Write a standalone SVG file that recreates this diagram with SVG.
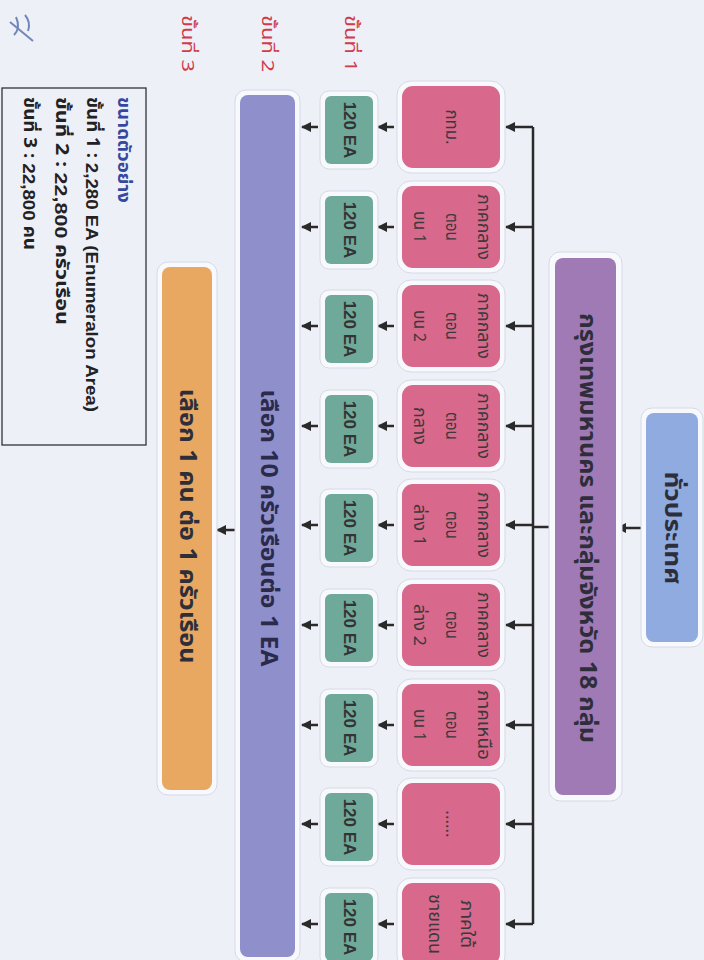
<svg xmlns="http://www.w3.org/2000/svg" width="704" height="960" viewBox="0 0 704 960">
<defs>
<marker id="ah" viewBox="0 0 10 10" refX="9" refY="5" markerWidth="10" markerHeight="10" markerUnits="userSpaceOnUse" orient="auto">
<path d="M0,0 L10,5 L0,10 z" fill="#2a2a2a"/>
</marker>
<style>
.halo{fill:#f8f9fd;stroke:#d6d9e6;stroke-width:1}
.pink{fill:#d8688c}
.green{fill:#6fa99a}
.t{font-family:"Noto Sans Thai","Noto Sans","DejaVu Sans",sans-serif;text-anchor:middle;dominant-baseline:central}
.big{font-size:23px;font-weight:bold;fill:#2e2e3a}
.pt{font-size:17px;fill:#3a3a3a}
.gt{font-family:"Liberation Sans",Arial,sans-serif;font-size:17px;font-weight:bold;fill:#333;text-anchor:middle;dominant-baseline:central}
.lg{font-family:"Noto Sans Thai","Noto Sans","DejaVu Sans",sans-serif;font-size:17px;font-weight:bold;fill:#222;dominant-baseline:central}
.st{font-family:"Noto Sans Thai","Noto Sans","DejaVu Sans",sans-serif;font-size:17px;fill:#d23a48;dominant-baseline:central}
.ln{stroke:#2a2a2a;stroke-width:2.5;fill:none}
.ar{stroke:#2a2a2a;stroke-width:2.5;fill:none;marker-end:url(#ah)}
</style>
</defs>
<rect x="0" y="0" width="704" height="960" fill="#eef0f8"/>

<path d="M10,22 L33,41 M16,17 Q21,28 14,35 M25,15 Q31,22 28,31" stroke="#7088b8" stroke-width="2" fill="none"/>

<g id="stage-labels">
<text class="st" transform="translate(350,15) rotate(90)" textLength="57" lengthAdjust="spacingAndGlyphs">ขั้นที่ 1</text>
<text class="st" transform="translate(267,15) rotate(90)" textLength="57" lengthAdjust="spacingAndGlyphs">ขั้นที่ 2</text>
<text class="st" transform="translate(187,15) rotate(90)" textLength="57" lengthAdjust="spacingAndGlyphs">ขั้นที่ 3</text>
</g>

<g id="legend">
<rect x="2" y="88" width="144" height="357" fill="none" stroke="#333" stroke-width="1.3"/>
<text class="lg" transform="translate(123,97) rotate(90)" style="fill:#3548a0" textLength="106" lengthAdjust="spacingAndGlyphs">ขนาดตัวอย่าง</text>
<text class="lg" transform="translate(92,97) rotate(90)" textLength="315" lengthAdjust="spacingAndGlyphs">ขั้นที่ 1 : <tspan font-family="Liberation Sans, Arial, sans-serif">2,280 EA (Enumeralon Area)</tspan></text>
<text class="lg" transform="translate(61,97) rotate(90)" textLength="228" lengthAdjust="spacingAndGlyphs">ขั้นที่ 2 : <tspan font-family="Liberation Sans, Arial, sans-serif">22,800</tspan> ครัวเรือน</text>
<text class="lg" transform="translate(29,97) rotate(90)" textLength="153" lengthAdjust="spacingAndGlyphs">ขั้นที่ 3 : <tspan font-family="Liberation Sans, Arial, sans-serif">22,800</tspan> คน</text>
</g>

<g id="connectors">
<line class="ar" x1="645" y1="528" x2="617" y2="528"/>
<line class="ln" x1="555" y1="527" x2="533" y2="527"/>
<line class="ln" x1="533" y1="127" x2="533" y2="924"/>
<line class="ar" x1="533" y1="127" x2="506" y2="127"/>
<line class="ar" x1="533" y1="227" x2="506" y2="227"/>
<line class="ar" x1="533" y1="326" x2="506" y2="326"/>
<line class="ar" x1="533" y1="426" x2="506" y2="426"/>
<line class="ar" x1="533" y1="525" x2="506" y2="525"/>
<line class="ar" x1="533" y1="625" x2="506" y2="625"/>
<line class="ar" x1="533" y1="725" x2="506" y2="725"/>
<line class="ar" x1="533" y1="824" x2="506" y2="824"/>
<line class="ar" x1="533" y1="924" x2="506" y2="924"/>
<line class="ar" x1="394" y1="127" x2="378" y2="127"/>
<line class="ar" x1="394" y1="227" x2="378" y2="227"/>
<line class="ar" x1="394" y1="326" x2="378" y2="326"/>
<line class="ar" x1="394" y1="426" x2="378" y2="426"/>
<line class="ar" x1="394" y1="525" x2="378" y2="525"/>
<line class="ar" x1="394" y1="625" x2="378" y2="625"/>
<line class="ar" x1="394" y1="725" x2="378" y2="725"/>
<line class="ar" x1="394" y1="824" x2="378" y2="824"/>
<line class="ar" x1="394" y1="924" x2="378" y2="924"/>
<line class="ar" x1="318" y1="127" x2="302" y2="127"/>
<line class="ar" x1="318" y1="227" x2="302" y2="227"/>
<line class="ar" x1="318" y1="326" x2="302" y2="326"/>
<line class="ar" x1="318" y1="426" x2="302" y2="426"/>
<line class="ar" x1="318" y1="525" x2="302" y2="525"/>
<line class="ar" x1="318" y1="625" x2="302" y2="625"/>
<line class="ar" x1="318" y1="725" x2="302" y2="725"/>
<line class="ar" x1="318" y1="824" x2="302" y2="824"/>
<line class="ar" x1="318" y1="924" x2="302" y2="924"/>
<line class="ar" x1="238" y1="530" x2="217" y2="530"/>
</g>

<g id="n-country">
<rect class="halo" x="641" y="408" width="62" height="239" rx="11"/>
<rect x="646" y="413" width="52" height="229" rx="8" fill="#8fabe0"/>
<text class="t big" transform="translate(672,528) rotate(90)" textLength="113" lengthAdjust="spacingAndGlyphs">ทั่วประเทศ</text>
</g>

<g id="n-groups">
<rect class="halo" x="549" y="252" width="73" height="549" rx="11"/>
<rect x="555" y="258" width="61" height="537" rx="8" fill="#a07ab5"/>
<text class="t big" transform="translate(587,528) rotate(90)" textLength="430" lengthAdjust="spacingAndGlyphs">กรุงเทพมหานคร และกลุ่มจังหวัด 18 กลุ่ม</text>
</g>

<g id="n-p1"><rect class="halo" x="397" y="81" width="108" height="92" rx="14"/><rect class="pink" x="402" y="86" width="98" height="82" rx="11"/>
<text class="t pt" transform="translate(451,127) rotate(90)" textLength="35" lengthAdjust="spacingAndGlyphs">กทม.</text></g>
<g id="n-p2"><rect class="halo" x="397" y="181" width="108" height="92" rx="14"/><rect class="pink" x="402" y="186" width="98" height="82" rx="11"/>
<text class="t pt" transform="translate(483,227) rotate(90)" textLength="66" lengthAdjust="spacingAndGlyphs">ภาคกลาง</text>
<text class="t pt" transform="translate(451,227) rotate(90)" textLength="28" lengthAdjust="spacingAndGlyphs">ตอน</text>
<text class="t pt" transform="translate(419,227) rotate(90)" textLength="32" lengthAdjust="spacingAndGlyphs">บน 1</text></g>
<g id="n-p3"><rect class="halo" x="397" y="280" width="108" height="92" rx="14"/><rect class="pink" x="402" y="285" width="98" height="82" rx="11"/>
<text class="t pt" transform="translate(483,326) rotate(90)" textLength="66" lengthAdjust="spacingAndGlyphs">ภาคกลาง</text>
<text class="t pt" transform="translate(451,326) rotate(90)" textLength="28" lengthAdjust="spacingAndGlyphs">ตอน</text>
<text class="t pt" transform="translate(419,326) rotate(90)" textLength="32" lengthAdjust="spacingAndGlyphs">บน 2</text></g>
<g id="n-p4"><rect class="halo" x="397" y="380" width="108" height="92" rx="14"/><rect class="pink" x="402" y="385" width="98" height="82" rx="11"/>
<text class="t pt" transform="translate(483,426) rotate(90)" textLength="66" lengthAdjust="spacingAndGlyphs">ภาคกลาง</text>
<text class="t pt" transform="translate(451,426) rotate(90)" textLength="28" lengthAdjust="spacingAndGlyphs">ตอน</text>
<text class="t pt" transform="translate(419,426) rotate(90)" textLength="38" lengthAdjust="spacingAndGlyphs">กลาง</text></g>
<g id="n-p5"><rect class="halo" x="397" y="479" width="108" height="92" rx="14"/><rect class="pink" x="402" y="484" width="98" height="82" rx="11"/>
<text class="t pt" transform="translate(483,525) rotate(90)" textLength="66" lengthAdjust="spacingAndGlyphs">ภาคกลาง</text>
<text class="t pt" transform="translate(451,525) rotate(90)" textLength="28" lengthAdjust="spacingAndGlyphs">ตอน</text>
<text class="t pt" transform="translate(419,525) rotate(90)" textLength="42" lengthAdjust="spacingAndGlyphs">ล่าง 1</text></g>
<g id="n-p6"><rect class="halo" x="397" y="579" width="108" height="92" rx="14"/><rect class="pink" x="402" y="584" width="98" height="82" rx="11"/>
<text class="t pt" transform="translate(483,625) rotate(90)" textLength="66" lengthAdjust="spacingAndGlyphs">ภาคกลาง</text>
<text class="t pt" transform="translate(451,625) rotate(90)" textLength="28" lengthAdjust="spacingAndGlyphs">ตอน</text>
<text class="t pt" transform="translate(419,625) rotate(90)" textLength="42" lengthAdjust="spacingAndGlyphs">ล่าง 2</text></g>
<g id="n-p7"><rect class="halo" x="397" y="679" width="108" height="92" rx="14"/><rect class="pink" x="402" y="684" width="98" height="82" rx="11"/>
<text class="t pt" transform="translate(483,725) rotate(90)" textLength="70" lengthAdjust="spacingAndGlyphs">ภาคเหนือ</text>
<text class="t pt" transform="translate(451,725) rotate(90)" textLength="28" lengthAdjust="spacingAndGlyphs">ตอน</text>
<text class="t pt" transform="translate(419,725) rotate(90)" textLength="32" lengthAdjust="spacingAndGlyphs">บน 1</text></g>
<g id="n-p8"><rect class="halo" x="397" y="778" width="108" height="92" rx="14"/><rect class="pink" x="402" y="783" width="98" height="82" rx="11"/>
<text class="t pt" transform="translate(451,824) rotate(90)">......</text></g>
<g id="n-p9"><rect class="halo" x="397" y="878" width="108" height="92" rx="14"/><rect class="pink" x="402" y="883" width="98" height="82" rx="11"/>
<text class="t pt" transform="translate(466,924) rotate(90)" textLength="48" lengthAdjust="spacingAndGlyphs">ภาคใต้</text>
<text class="t pt" transform="translate(434,924) rotate(90)" textLength="60" lengthAdjust="spacingAndGlyphs">ชายแดน</text></g>

<g id="n-g1"><rect class="halo" x="320" y="91" width="58" height="78" rx="9"/><rect class="green" x="325" y="96" width="48" height="68" rx="6"/><text class="gt" transform="translate(349,130) rotate(90)">120 EA</text></g>
<g id="n-g2"><rect class="halo" x="320" y="191" width="58" height="78" rx="9"/><rect class="green" x="325" y="196" width="48" height="68" rx="6"/><text class="gt" transform="translate(349,230) rotate(90)">120 EA</text></g>
<g id="n-g3"><rect class="halo" x="320" y="290" width="58" height="78" rx="9"/><rect class="green" x="325" y="295" width="48" height="68" rx="6"/><text class="gt" transform="translate(349,329) rotate(90)">120 EA</text></g>
<g id="n-g4"><rect class="halo" x="320" y="390" width="58" height="78" rx="9"/><rect class="green" x="325" y="395" width="48" height="68" rx="6"/><text class="gt" transform="translate(349,429) rotate(90)">120 EA</text></g>
<g id="n-g5"><rect class="halo" x="320" y="489" width="58" height="78" rx="9"/><rect class="green" x="325" y="494" width="48" height="68" rx="6"/><text class="gt" transform="translate(349,528) rotate(90)">120 EA</text></g>
<g id="n-g6"><rect class="halo" x="320" y="589" width="58" height="78" rx="9"/><rect class="green" x="325" y="594" width="48" height="68" rx="6"/><text class="gt" transform="translate(349,628) rotate(90)">120 EA</text></g>
<g id="n-g7"><rect class="halo" x="320" y="689" width="58" height="78" rx="9"/><rect class="green" x="325" y="694" width="48" height="68" rx="6"/><text class="gt" transform="translate(349,728) rotate(90)">120 EA</text></g>
<g id="n-g8"><rect class="halo" x="320" y="788" width="58" height="78" rx="9"/><rect class="green" x="325" y="793" width="48" height="68" rx="6"/><text class="gt" transform="translate(349,827) rotate(90)">120 EA</text></g>
<g id="n-g9"><rect class="halo" x="320" y="888" width="58" height="78" rx="9"/><rect class="green" x="325" y="893" width="48" height="68" rx="6"/><text class="gt" transform="translate(349,927) rotate(90)">120 EA</text></g>

<g id="n-households">
<rect class="halo" x="235" y="90" width="65" height="872" rx="11"/>
<rect x="240" y="95" width="55" height="862" rx="8" fill="#8f8fcc"/>
<text class="t big" transform="translate(268,528) rotate(90)" style="fill:#2a2a4a" textLength="277" lengthAdjust="spacingAndGlyphs">เลือก 10 ครัวเรือนต่อ 1 EA</text>
</g>

<g id="n-person">
<rect class="halo" x="157" y="262" width="60" height="533" rx="11"/>
<rect x="162" y="267" width="50" height="523" rx="8" fill="#e8a862"/>
<text class="t big" transform="translate(187,526) rotate(90)" textLength="275" lengthAdjust="spacingAndGlyphs">เลือก 1 คน ต่อ 1 ครัวเรือน</text>
</g>
</svg>
